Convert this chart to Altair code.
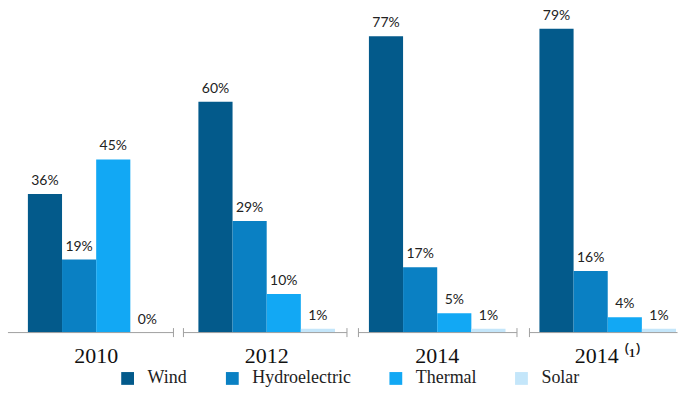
import altair as alt
import pandas as pd

years = ["2010", "2012", "2014", "2014 ⁽¹⁾"]
series = ["Wind", "Hydroelectric", "Thermal", "Solar"]
wind = [36, 60, 77, 79]
hydro = [19, 29, 17, 16]
thermal = [45, 10, 5, 4]
solar = [0, 1, 1, 1]
colors = ["#035a8b", "#0a80c3", "#12a8f4", "#c4e6fa"]

# broken x-axis segments (one per group), drawn as symbol paths centred on each group
axis_paths = [
    "M -0.885 0 L 0.775 0 M 0.775 -0.045 L 0.775 0.045",
    "M -0.835 0 L 0.805 0 M -0.835 -0.045 L -0.835 0.045 M 0.805 -0.045 L 0.805 0.045",
    "M -0.79 0 L 0.80 0 M -0.79 -0.045 L -0.79 0.045 M 0.80 -0.045 L 0.80 0.045",
    "M -0.785 0 L 0.70 0 M -0.785 -0.045 L -0.785 0.045",
]

rows = []
for i, y in enumerate(years):
    for s, vals in zip(series, [wind, hydro, thermal, solar]):
        rows.append({"year": y, "series": s, "value": vals[i], "label": f"{vals[i]}%"})
df = pd.DataFrame(rows)

xscale = alt.Scale(paddingInner=0.199, paddingOuter=0.073, align=0.92)
xaxis = alt.Axis(title=None, domain=False, ticks=False, tickSize=0,
                 labelFont="Liberation Serif", labelFontSize=22, labelAlign="center",
                 labelBaseline="top", labelColor="#111", labelPadding=13, labelAngle=0)
xenc = alt.X("year:N", sort=years, scale=xscale, axis=xaxis)
yscale = alt.Scale(domain=[0, 85], nice=False)
yenc = alt.Y("value:Q", scale=yscale, axis=None)
xoff = alt.XOffset("series:N", sort=series, scale=alt.Scale(paddingInner=0, paddingOuter=0))

base = alt.Chart(df).encode(x=xenc, xOffset=xoff, y=yenc)

bars = base.mark_bar().encode(
    color=alt.Color("series:N", sort=series,
                    scale=alt.Scale(domain=series, range=colors),
                    legend=alt.Legend(title=None, orient="none", legendX=114, legendY=365,
                                      direction="horizontal", symbolType="square",
                                      symbolSize=165, symbolStrokeWidth=0,
                                      labelFont="Liberation Serif", labelFontSize=18,
                                      labelColor="#222", columnPadding=36, labelOffset=11))
)

labels = base.mark_text(baseline="middle", dy=-13, font="Lato", fontSize=14,
                        color="#222").encode(text="label:N")

axis_line = alt.Chart(df).transform_filter(alt.datum.series == "Wind").transform_calculate(
    zero="0"
).mark_point(filled=False, size=40000, strokeWidth=1, color="#a0a0a0", opacity=1).encode(
    x=alt.X("year:N", sort=years, scale=xscale, axis=xaxis),
    y=alt.Y("zero:Q", scale=yscale, axis=None),
    shape=alt.Shape("year:N", scale=alt.Scale(domain=years, range=axis_paths), legend=None),
)

chart = alt.layer(bars, labels, axis_line).properties(
    width=675, height=328,
    padding={"left": 5, "top": 5, "right": 2, "bottom": 0},
    background="white",
).configure(font="Liberation Serif").configure_view(stroke=None).configure_legend(
    labelFont="Liberation Serif"
)

chart.save("out.html", embed_options={"renderer": "svg", "actions": False})
